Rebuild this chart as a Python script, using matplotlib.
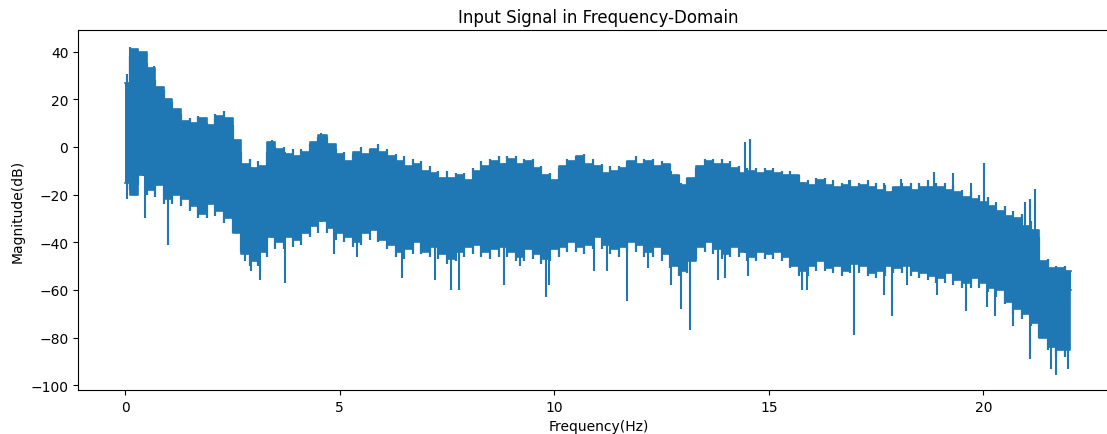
import numpy as np
import matplotlib
matplotlib.use("Agg")
import matplotlib.pyplot as plt

# Spectrum envelope sampled every 0.2 Hz (top / bottom of the noisy magnitude band)
freq = [0.0, 0.2, 0.4, 0.6, 0.8, 1.0, 1.2, 1.4, 1.6, 1.8, 2.0, 2.2, 2.4, 2.6, 2.8, 3.0,
        3.2, 3.4, 3.6, 3.8, 4.0, 4.2, 4.4, 4.6, 4.8, 5.0, 5.2, 5.4, 5.6, 5.8, 6.0, 6.2,
        6.4, 6.6, 6.8, 7.0, 7.2, 7.4, 7.6, 7.8, 8.0, 8.2, 8.4, 8.6, 8.8, 9.0, 9.2, 9.4,
        9.6, 9.8, 10.0, 10.2, 10.4, 10.6, 10.8, 11.0, 11.2, 11.4, 11.6, 11.8, 12.0, 12.2,
        12.4, 12.6, 12.8, 13.0, 13.2, 13.4, 13.6, 13.8, 14.0, 14.2, 14.4, 14.6, 14.8, 15.0,
        15.2, 15.4, 15.6, 15.8, 16.0, 16.2, 16.4, 16.6, 16.8, 17.0, 17.2, 17.4, 17.6, 17.8,
        18.0, 18.2, 18.4, 18.6, 18.8, 19.0, 19.2, 19.4, 19.6, 19.8, 20.0, 20.2, 20.4, 20.6,
        20.8, 21.0, 21.2, 21.4, 21.6, 21.8, 22.0, 22.05]

mag_upper = [27, 41, 40, 33, 25, 20, 16, 11, 10, 12, 9, 13, 12, 3, -7, -9,
             -8, 2, -1, -3, -4, -2, 2, 5, 1, -3, -6, -2, -3, -1, -2, -4,
             -6, -8, -7, -10, -11, -13, -13, -12, -14, -10, -8, -6, -7, -5, -7, -6,
             -9, -12, -14, -8, -6, -4, -7, -8, -11, -10, -9, -6, -7, -6,
             -8, -7, -12, -16, -13, -8, -6, -7, -7, -9, -11, -10, -11, -10,
             -11, -12, -12, -15, -16, -14, -16, -17, -16, -17, -16, -17, -18, -19,
             -17, -17, -18, -17, -17, -17, -18, -19, -21, -22, -23, -25, -27, -29,
             -30, -33, -35, -48, -51, -51, -52, -52]

mag_lower = [-15, -20, -12, -18, -16, -22, -20, -22, -25, -28, -24, -27, -30, -36, -45, -48,
             -44, -38, -40, -38, -39, -36, -33, -31, -34, -36, -38, -40, -36, -35, -39, -41,
             -44, -43, -40, -44, -42, -45, -47, -44, -42, -41, -44, -43, -42, -44, -46, -43,
             -45, -47, -43, -42, -40, -42, -41, -38, -41, -43, -42, -40, -41, -44,
             -42, -45, -50, -52, -48, -42, -40, -43, -45, -42, -44, -46, -44, -45,
             -44, -46, -50, -52, -50, -48, -51, -50, -52, -49, -50, -53, -52, -50,
             -51, -50, -52, -53, -54, -55, -53, -56, -57, -55, -57, -59, -60, -65,
             -68, -70, -74, -80, -84, -85, -85, -60]

# Band ripple between the envelope samples (0.1, 0.3, ... Hz)
ripple_freq = [0.1, 0.3, 0.5, 0.7, 0.9, 1.1, 1.3, 1.5, 1.7, 1.9, 2.1, 2.3, 2.5, 2.7, 2.9,
               3.1, 3.3, 3.5, 3.7, 3.9, 4.1, 4.3, 4.5, 4.7, 4.9, 5.1, 5.3, 5.5, 5.7, 5.9,
               6.1, 6.3, 6.5, 6.7, 6.9, 7.1, 7.3, 7.5, 7.7, 7.9, 8.1, 8.3, 8.5, 8.7, 8.9,
               9.1, 9.3, 9.5, 9.7, 9.9, 10.1, 10.3, 10.5, 10.7, 10.9, 11.1, 11.3, 11.5,
               11.7, 11.9, 12.1, 12.3, 12.5, 12.7, 12.9, 13.1, 13.3, 13.5, 13.7, 13.9,
               14.1, 14.3, 14.5, 14.7, 14.9, 15.1, 15.3, 15.5, 15.7, 15.9, 16.1, 16.3,
               16.5, 16.7, 16.9, 17.1, 17.3, 17.5, 17.7, 17.9, 18.1, 18.3, 18.5, 18.7,
               18.9, 19.1, 19.3, 19.5, 19.7, 19.9, 20.1, 20.3, 20.5, 20.7, 20.9, 21.1,
               21.3, 21.5, 21.7, 21.9]

ripple_top = [38, 36, 35, 28, 24, 19, 14, 12, 13, 10, 14, 15, 9, -2, -5,
              -6, -2, 0, 0, -1, -1, 1, 4, 4, -1, -2, -3, 0, -1, 1,
              -1, -3, -4, -5, -6, -8, -10, -10, -11, -11, -9, -6, -5, -4, -4,
              -4, -5, -5, -8, -11, -9, -5, -4, -3, -5, -7, -8, -8,
              -6, -4, -5, -5, -6, -7, -12, -13, -9, -5, -5, -5,
              -6, -8, -9, -9, -9, -9, -10, -10, -12, -14, -13, -13,
              -14, -15, -14, -15, -14, -15, -16, -17, -15, -15, -15, -14,
              -15, -15, -16, -18, -19, -20, -21, -23, -25, -27, -28, -31,
              -38, -47, -50, -50]

ripple_bottom = [-18, -16, -20, -21, -24, -24, -25, -27, -30, -30, -29, -32, -36, -44, -50,
                 -50, -46, -43, -43, -42, -41, -38, -36, -36, -39, -40, -42, -41, -39, -40,
                 -43, -46, -47, -45, -45, -46, -47, -49, -48, -46, -45, -46, -47, -46, -46,
                 -48, -48, -47, -49, -48, -46, -44, -44, -45, -43, -43, -45, -46,
                 -44, -44, -46, -46, -48, -51, -54, -53, -47, -44, -45, -47,
                 -46, -46, -48, -48, -47, -47, -48, -51, -54, -54, -52, -52,
                 -53, -54, -53, -53, -54, -55, -54, -53, -53, -54, -55, -56,
                 -57, -57, -58, -59, -59, -59, -61, -63, -66, -70, -72, -75,
                 -80, -85, -88, -88]

# Narrow peaks above the band
peak_freq = [0.12, 0.26, 0.41, 0.66, 3.43, 4.57, 14.45, 14.55, 16.86, 17.68,
             18.07, 18.85, 19.28, 19.71, 20.02, 20.96, 21.08, 21.19]
peak_mag = [42, 41, 40, 34, 3, 6, 2, 3.5, -14, -15,
            -13.5, -10.5, -11, -15, -6.7, -23, -22, -17.6]

# Narrow dips below the band
dip_freq = [0.05, 0.47, 1.0, 2.8, 2.93, 3.15, 3.73, 4.86, 5.39, 6.44, 7.22, 7.59, 7.78,
            8.82, 9.2, 9.81, 9.87, 10.93, 11.22, 11.69, 12.18, 12.72, 12.95, 13.15,
            13.82, 13.97, 14.52, 15.77, 15.88, 16.98, 17.68, 17.87, 18.22, 18.92,
            19.6, 20.08, 20.26, 20.69, 21.08, 21.58, 21.7, 21.97]
dip_mag = [-22, -30, -41, -48, -52, -56, -57, -45, -46, -55, -56, -60, -60,
           -58, -50, -63, -58, -52, -52, -64.5, -51, -58, -68, -77,
           -56, -55, -54, -60, -60, -79, -62, -71, -58, -62,
           -69, -67, -71, -75, -89, -93, -95.5, -93]

color = "#1f77b4"

fig = plt.figure(figsize=(11.07, 4.35), dpi=100)
ax = fig.add_axes([0.0705, 0.101, 0.94, 0.8276])

ax.fill_between(freq, mag_lower, mag_upper, step="mid", color=color, lw=0)
ax.plot(freq, mag_upper, color=color, lw=1.2, drawstyle="steps-mid")
ax.plot(freq, mag_lower, color=color, lw=1.2, drawstyle="steps-mid")

# ripple strokes span the whole band at their frequency
ax.vlines(ripple_freq, ripple_bottom, ripple_top, color=color, lw=1.6)

# spikes start inside the band
peak_base = np.interp(peak_freq, freq, mag_lower)
dip_base = np.interp(dip_freq, freq, mag_upper)
ax.vlines(peak_freq, peak_base, peak_mag, color=color, lw=1.5)
ax.vlines(dip_freq, dip_mag, dip_base, color=color, lw=1.5)

ax.set_xlim(-1.1, 23.15)
ax.set_ylim(-102, 49)
ax.set_xticks([0, 5, 10, 15, 20])
ax.set_yticks([-100, -80, -60, -40, -20, 0, 20, 40])
ax.set_title("Input Signal in Frequency-Domain")
ax.set_xlabel("Frequency(Hz)")
ax.set_ylabel("Magnitude(dB)")

fig.savefig("out.png", dpi=100)
